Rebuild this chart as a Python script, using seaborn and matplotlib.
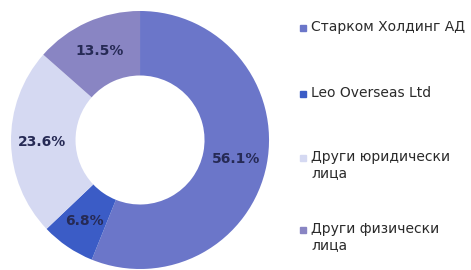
import matplotlib
matplotlib.use("Agg")
import matplotlib.pyplot as plt
import seaborn as sns
from matplotlib.patches import Rectangle

# data
labels = ["Старком Холдинг АД", "Leo Overseas Ltd", "Други юридически\nлица", "Други физически\nлица"]
shares = [56.1, 6.8, 23.6, 13.5]
colors = ["#6b76c9", "#3b5cc6", "#d5d9f2", "#8985c3"]

sns.set_theme(style="white")
plt.rcParams['font.family'] = ['DejaVu Sans']

fig = plt.figure(figsize=(4.71, 2.70), dpi=100)
ax = fig.add_axes([0.0234, 0.0037, 0.5478, 0.9556])

wedges, texts, autotexts = ax.pie(
    shares, colors=colors, startangle=90, counterclock=False,
    autopct="%.1f%%", pctdistance=0.76,
    wedgeprops=dict(width=0.5, edgecolor="none"),
    textprops=dict(color="#262a55", fontsize=10, fontweight="bold"),
)
ax.set_xlim(-1.0, 1.0)
ax.set_ylim(-1.0, 1.0)
ax.set_aspect("equal")

# legend drawn by hand so the marker sits on the first text line
legend_y = [28, 94, 158, 230]
for lab, col, y in zip(labels, colors, legend_y):
    yf = 1 - y / 270
    fig.patches.append(Rectangle((300 / 471, yf - 3 / 270), 6 / 471, 6 / 270,
                                 transform=fig.transFigure, color=col))
    fig.text(311 / 471, yf + 8 / 270, lab, fontsize=10, color="#2a2a2a",
             va="top", ha="left", linespacing=1.2)

fig.savefig("out.png", dpi=100)
